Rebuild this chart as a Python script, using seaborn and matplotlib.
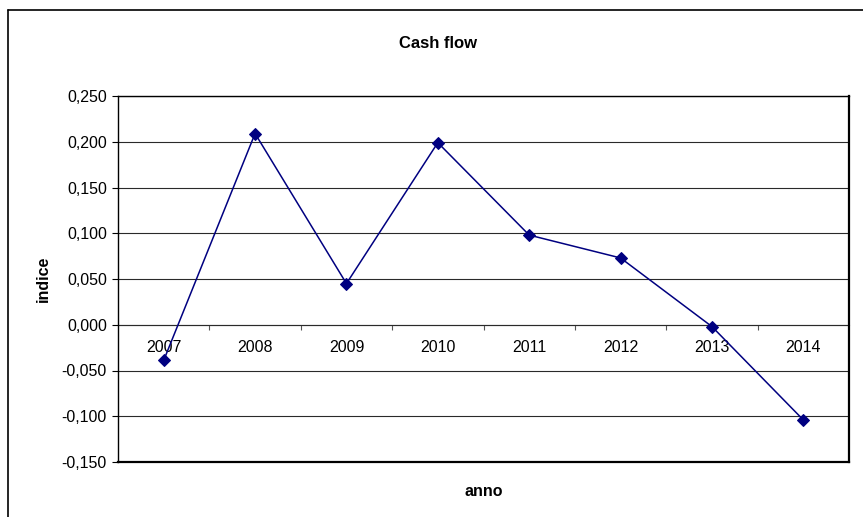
import matplotlib
matplotlib.use("Agg")
import matplotlib.pyplot as plt
import seaborn as sns
import pandas as pd
from matplotlib.ticker import FuncFormatter, FixedLocator
from matplotlib.lines import Line2D

# Data
years = ['2007', '2008', '2009', '2010', '2011', '2012', '2013', '2014']
cash_flow = [-0.039, 0.209, 0.045, 0.199, 0.098, 0.073, -0.002, -0.104]

y_min, y_max, y_step = -0.150, 0.250, 0.050

sns.set_style("white")
plt.rcParams['font.family'] = ['Liberation Sans', 'DejaVu Sans']
plt.rcParams['font.size'] = 11
plt.rcParams['text.color'] = 'black'
plt.rcParams['axes.labelcolor'] = 'black'
plt.rcParams['xtick.color'] = 'black'
plt.rcParams['ytick.color'] = 'black'

df = pd.DataFrame({'anno': years, 'indice': cash_flow})

fig = plt.figure(figsize=(8.63, 5.17), dpi=100)
ax = fig.add_axes([118 / 863, 55 / 517, 731 / 863, 366 / 517])

sns.lineplot(data=df, x='anno', y='indice', ax=ax, color='#000080',
             marker='D', markersize=6.5, markeredgecolor='#000080',
             linewidth=1.1, sort=False)

n = len(years)
ax.set_xlim(-0.5, n - 0.5)
ax.set_ylim(y_min, y_max)

# y axis: comma decimals, outward ticks, horizontal gridlines
yticks = [round(y_min + i * y_step, 3) for i in range(int(round((y_max - y_min) / y_step)) + 1)]
ax.set_yticks(yticks)
ax.yaxis.set_major_formatter(FuncFormatter(lambda v, p: f"{v:.3f}".replace('.', ',')))
ax.tick_params(axis='y', direction='out', length=4, width=0.8, pad=4,
               left=True, labelsize=11.5, colors='black')
ax.yaxis.grid(True, color='#2a2a2a', linewidth=0.8)
ax.set_axisbelow(True)

# x axis crosses at zero, like the original spreadsheet chart
ax.set_xticks([])
ax.set_xlabel('anno', fontweight='bold', fontsize=11.5, labelpad=16)
zero_frac = (0 - y_min) / (y_max - y_min)
sec = ax.secondary_xaxis(zero_frac)
sec.set_xticks(range(n), labels=years)
sec.xaxis.set_minor_locator(FixedLocator([i - 0.5 for i in range(1, n)]))
sec.tick_params(which='major', length=0, pad=11, labelsize=11.5, labelcolor='black')
sec.tick_params(which='minor', direction='out', length=3.5, width=0.8, color='#555555')
sec.spines['bottom'].set_color('#555555')
sec.spines['bottom'].set_linewidth(0.8)

ax.set_ylabel('indice', fontweight='bold', fontsize=11.5, labelpad=8)

for side in ['top', 'left']:
    ax.spines[side].set_color('black')
    ax.spines[side].set_linewidth(1.0)
for side in ['right', 'bottom']:
    ax.spines[side].set_color('black')
    ax.spines[side].set_linewidth(1.6)

# chart-area frame (only top and left edges are visible in the reference)
fig.add_artist(Line2D([8 / 863, 1.0], [1 - 10 / 517, 1 - 10 / 517],
                      transform=fig.transFigure, color='black', linewidth=1.2))
fig.add_artist(Line2D([8 / 863, 8 / 863], [0.0, 1 - 10 / 517],
                      transform=fig.transFigure, color='black', linewidth=1.2))

fig.text(438 / 863, 1 - 43 / 517, 'Cash flow', ha='center', va='center',
         fontweight='bold', fontsize=12)

fig.savefig('out.png', dpi=100)
